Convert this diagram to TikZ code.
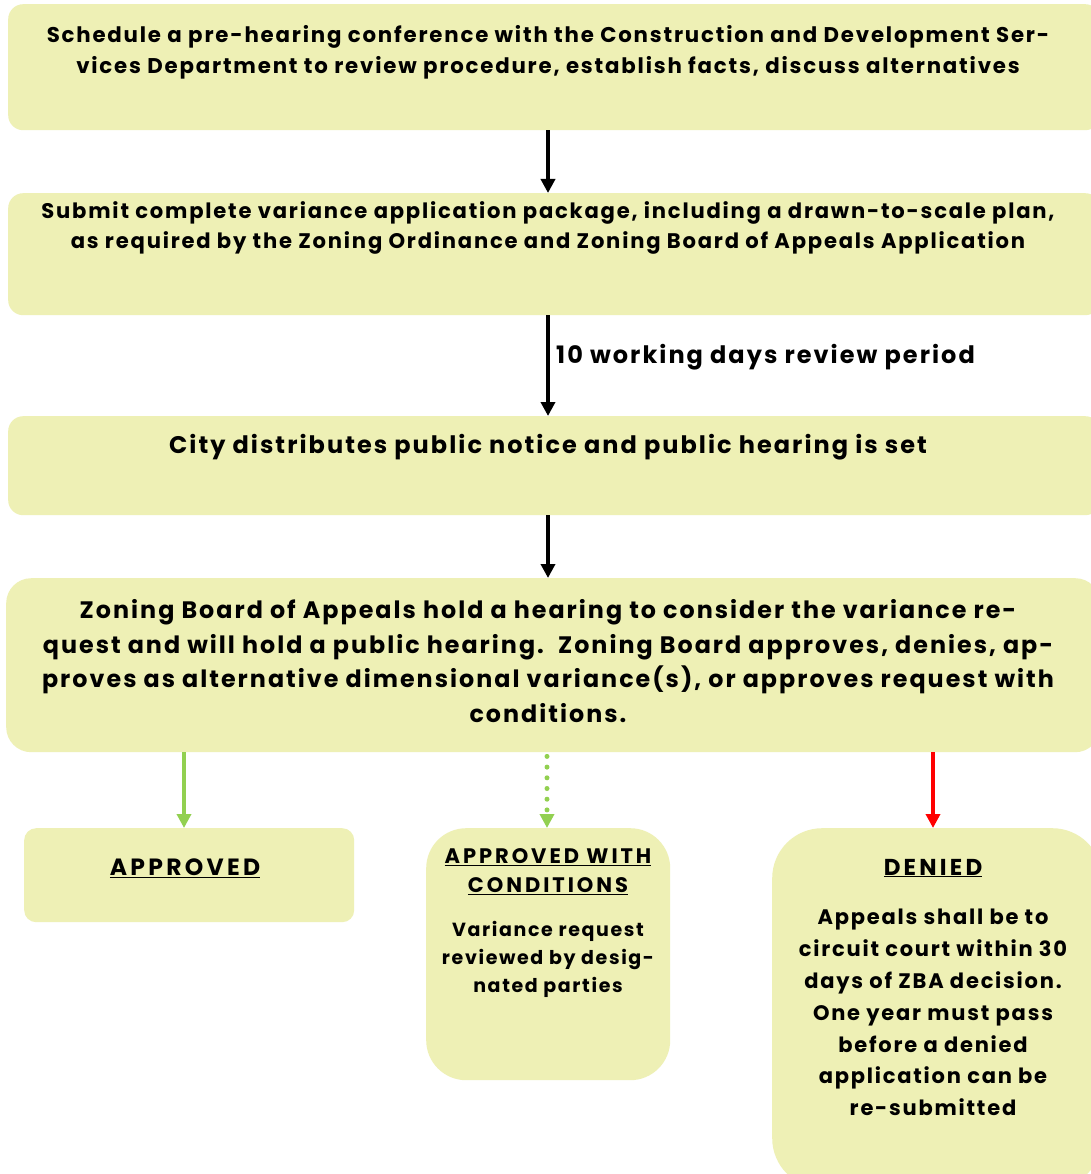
\documentclass[tikz,border=0pt]{standalone}
\usepackage{fontspec}
\setmainfont{Poppins}[LetterSpace=8.5]
\newfontfamily\titlefont{Poppins}[LetterSpace=14]
\usetikzlibrary{arrows.meta}
\definecolor{boxfill}{HTML}{EEF0B5}
\definecolor{okgreen}{HTML}{92D050}
\definecolor{nored}{HTML}{FF0000}
\tikzset{
  box/.style={fill=boxfill, draw=none, anchor=north west, inner sep=0pt, rounded corners=#1},
  box/.default=15pt,
  txt/.style={align=center, text=black, inner sep=0pt},
  arr/.style={-{Triangle[width=14pt,length=14pt]}, line width=4pt},
}
\begin{document}
\begin{tikzpicture}[x=1pt,y=-1pt]
\clip (0,0) rectangle (1091,1174);
\fill[white] (0,0) rectangle (1091,1174);
\coordinate (mid) at (548,0);
\coordinate (midc) at (547,0);
\coordinate (lft) at (184,0);
\coordinate (rgt) at (933,0);
% boxes
\node[box, minimum width=1092pt, minimum height=126pt] (b1) at (8,4) {};
\node[box, minimum width=1092pt, minimum height=122pt] (b2) at (8,193) {};
\node[box, minimum width=1092pt, minimum height=99pt] (b3) at (8,416) {};
\node[box=25pt, minimum width=1094pt, minimum height=174pt] (b4) at (6,578) {};
\node[box=12pt, minimum width=330pt, minimum height=94pt] (bA) at (24,828) {};
\node[box=40pt, minimum width=244pt, minimum height=252pt] (bC) at (426,828) {};
\node[box=50pt, minimum width=330pt, minimum height=360pt] (bD) at (772,828) {};
% texts
\node[txt, font=\bfseries\fontsize{21.3}{31}\selectfont] (t1) at (548,52.5)
 {Schedule a pre-hearing conference with the Construction and Development Ser-\\vices Department to review procedure, establish facts, discuss alternatives};
\node[txt, font=\bfseries\fontsize{21.1}{30}\selectfont] (t2) at (548,228)
 {Submit complete variance application package, including a drawn-to-scale plan,\\as required by the Zoning Ordinance and Zoning Board of Appeals Application};
\node[txt, anchor=west, font=\bfseries\fontsize{24}{28}\selectfont] (lab) at (556,357) {10 working days review period};
\node[txt, font=\bfseries\fontsize{24}{28}\selectfont] (t3) at (548,447) {City distributes public notice and public hearing is set};
\node[txt, font=\bfseries\fontsize{23.8}{34.7}\selectfont] (t4) at (548,661)
 {Zoning Board of Appeals hold a hearing to consider the variance re-\\quest and will hold a public hearing.\ \ Zoning Board approves, denies, ap-\\proves as alternative dimensional variance(s), or approves request with\\conditions.};
\node[txt, font=\titlefont\bfseries\fontsize{23.5}{28}\selectfont] (tA) at (185,868) {\underline{APPROVED}};
\node[txt, font=\titlefont\bfseries\fontsize{21}{29}\selectfont] (tC) at (548,871.5) {\underline{APPROVED WITH}\\\underline{CONDITIONS}};
\node[txt, font=\bfseries\fontsize{19}{28}\selectfont] (tCb) at (548,959) {Variance request\\reviewed by desig-\\nated parties};
\node[txt, font=\titlefont\bfseries\fontsize{23}{28}\selectfont] (tD) at (933,868) {\underline{DENIED}};
\node[txt, font=\bfseries\fontsize{21}{31.8}\selectfont] (tDb) at (933,1012.5) {Appeals shall be to\\circuit court within 30\\days of ZBA decision.\\One year must pass\\before a denied\\application can be\\re-submitted};
% connectors
\draw[arr] (b1.south -| mid) -- (b2.north -| mid);
\draw[arr] (b2.south -| mid) -- (b3.north -| mid);
\draw[arr] (b3.south -| mid) -- (b4.north -| mid);
\draw[arr, okgreen] (b4.south -| lft) -- (bA.north -| lft);
\draw[arr, okgreen, line width=5pt, line cap=round, dash pattern=on 0pt off 10.7pt] (b4.south -| midc) ++(0,4) -- (bC.north -| midc);
\draw[arr, nored] (b4.south -| rgt) -- (bD.north -| rgt);
\end{tikzpicture}
\end{document}
